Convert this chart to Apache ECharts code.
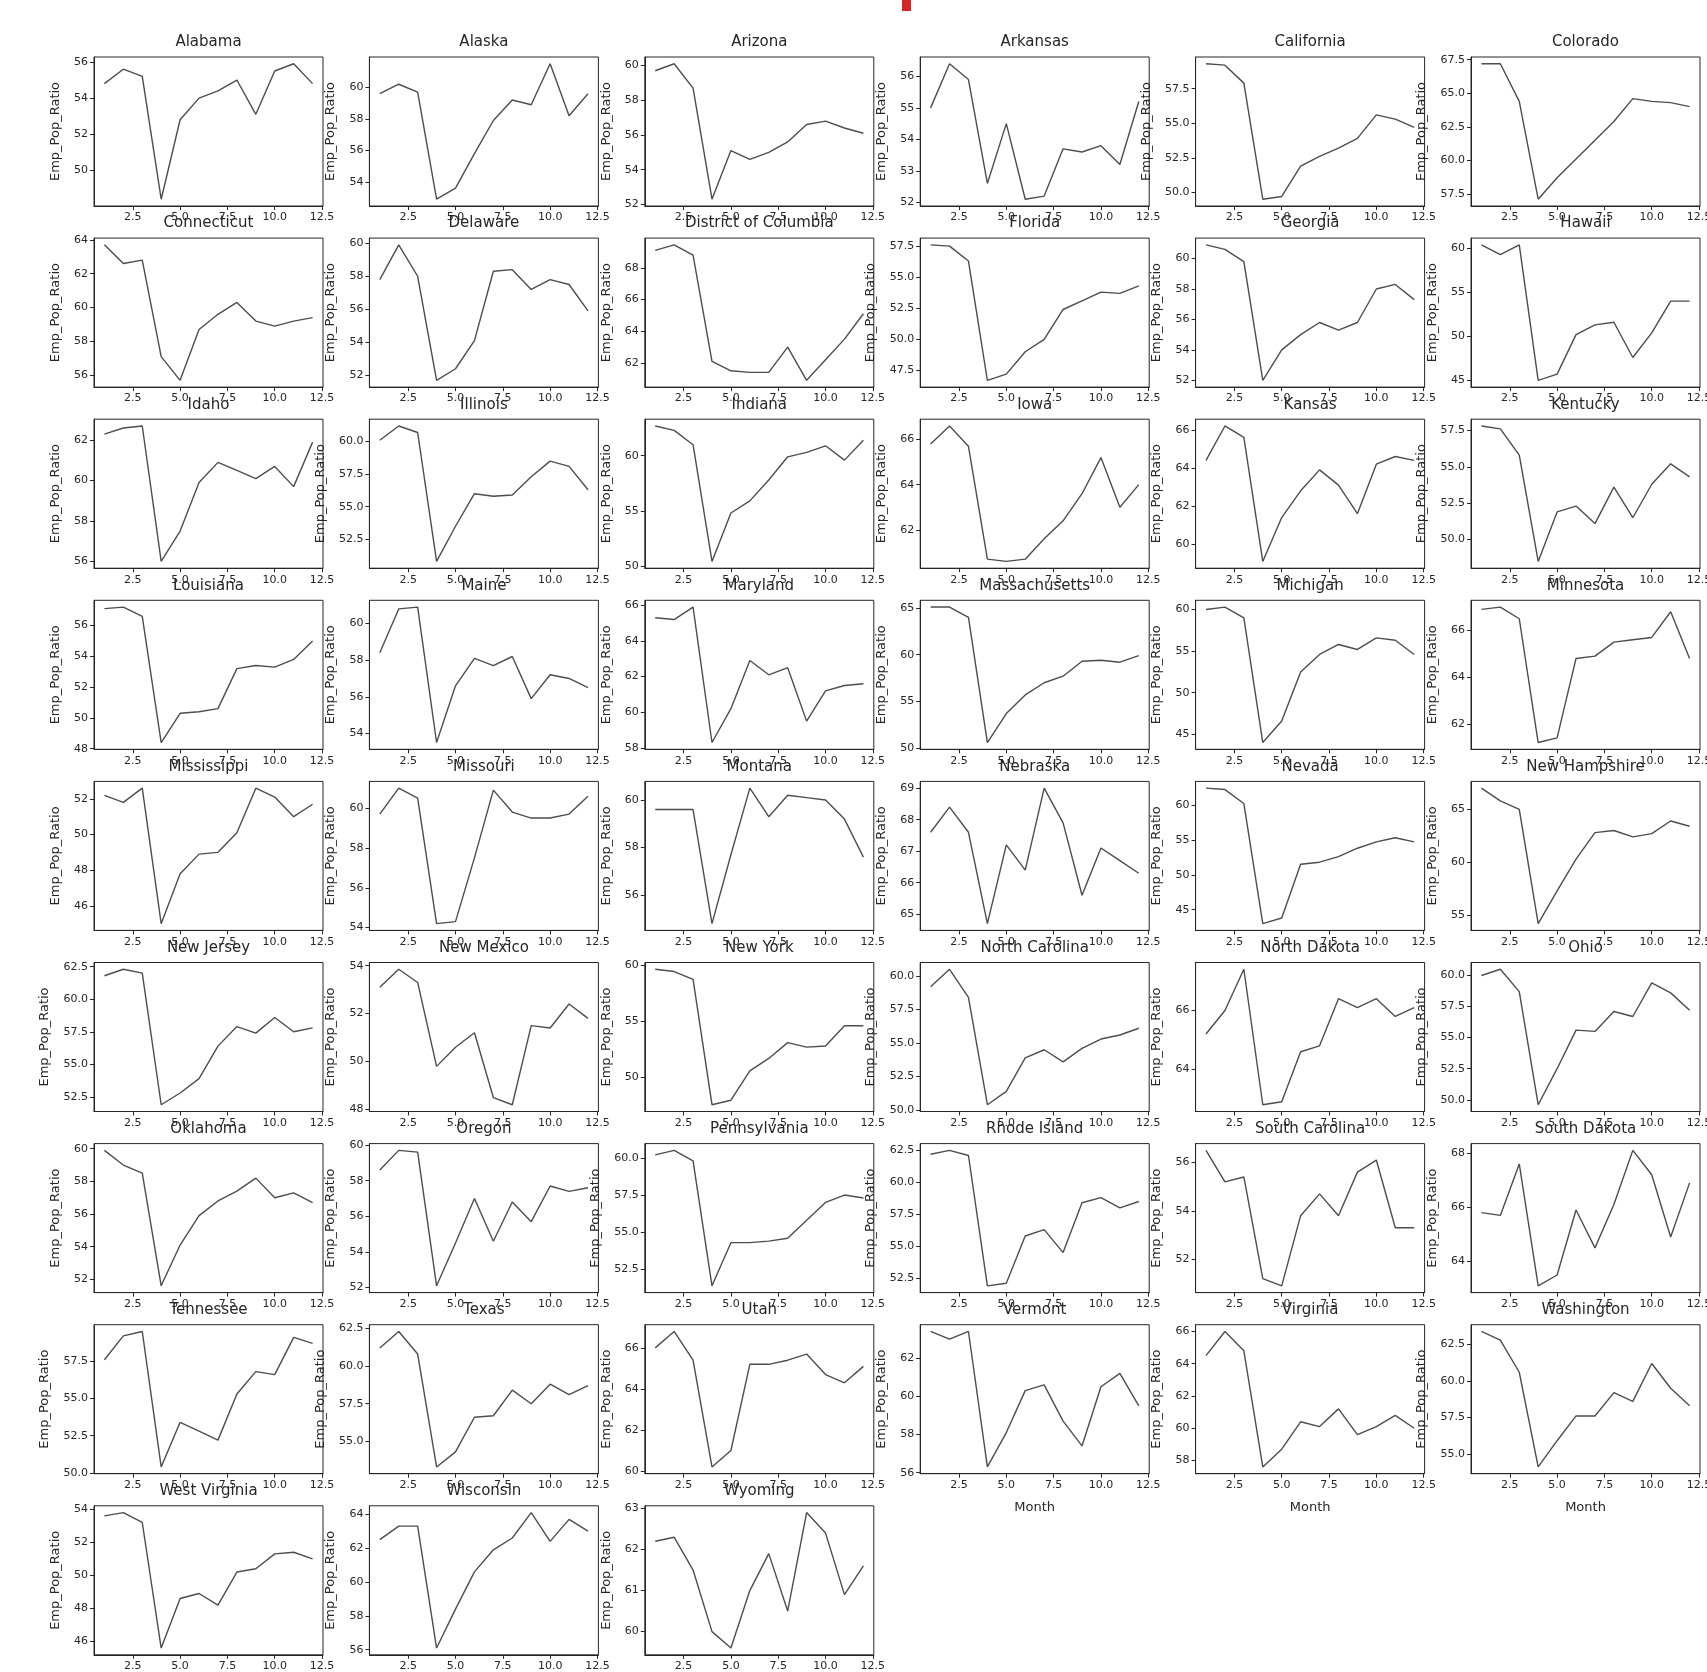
<!DOCTYPE html>
<html><head><meta charset="utf-8">
<script src="https://cdn.jsdelivr.net/npm/echarts@6/dist/echarts.min.js"></script>
<style>html,body{margin:0;padding:0;background:#fff}#c{width:1707px;height:1672px}</style>
</head><body><div id="c"></div>
<script>
const months = [1,2,3,4,5,6,7,8,9,10,11,12];
const states = ["Alabama","Alaska","Arizona","Arkansas","California","Colorado","Connecticut","Delaware","District of Columbia","Florida","Georgia","Hawaii","Idaho","Illinois","Indiana","Iowa","Kansas","Kentucky","Louisiana","Maine","Maryland","Massachusetts","Michigan","Minnesota","Mississippi","Missouri","Montana","Nebraska","Nevada","New Hampshire","New Jersey","New Mexico","New York","North Carolina","North Dakota","Ohio","Oklahoma","Oregon","Pennsylvania","Rhode Island","South Carolina","South Dakota","Tennessee","Texas","Utah","Vermont","Virginia","Washington","West Virginia","Wisconsin","Wyoming"];

const alabama = [54.8,55.6,55.2,48.4,52.8,54.0,54.4,55.0,53.1,55.5,55.9,54.8];
const alaska = [59.6,60.2,59.7,52.9,53.6,55.8,57.9,59.2,58.9,61.5,58.2,59.6];
const arizona = [59.7,60.1,58.7,52.3,55.1,54.6,55.0,55.6,56.6,56.8,56.4,56.1];
const arkansas = [55.0,56.4,55.9,52.6,54.5,52.1,52.2,53.7,53.6,53.8,53.2,55.2];
const california = [59.3,59.2,57.9,49.5,49.7,51.9,52.6,53.2,53.9,55.6,55.3,54.7];
const colorado = [67.2,67.2,64.4,57.1,58.7,60.1,61.5,62.9,64.6,64.4,64.3,64.0];
const connecticut = [63.7,62.6,62.8,57.1,55.7,58.7,59.6,60.3,59.2,58.9,59.2,59.4];
const delaware = [57.8,59.9,58.0,51.7,52.4,54.1,58.3,58.4,57.2,57.8,57.5,55.9];
const districtOfColumbia = [69.1,69.45,68.8,62.1,61.5,61.4,61.4,63.0,60.9,62.2,63.5,65.1];
const florida = [57.6,57.5,56.3,46.7,47.2,49.0,50.0,52.4,53.1,53.8,53.7,54.3];
const georgia = [60.9,60.6,59.8,52.0,54.0,55.0,55.8,55.3,55.8,58.0,58.3,57.3];
const hawaii = [60.4,59.3,60.4,45.0,45.7,50.2,51.3,51.6,47.6,50.4,54.0,54.0];
const idaho = [62.3,62.6,62.7,56.0,57.5,59.9,60.9,60.5,60.1,60.7,59.7,61.9];
const illinois = [60.1,61.2,60.7,50.8,53.5,56.0,55.8,55.9,57.3,58.5,58.1,56.3];
const indiana = [62.7,62.3,61.0,50.4,54.8,55.9,57.8,59.9,60.3,60.9,59.6,61.4];
const iowa = [65.8,66.6,65.7,60.7,60.6,60.7,61.6,62.4,63.6,65.2,63.0,64.0];
const kansas = [64.4,66.2,65.6,59.1,61.4,62.8,63.9,63.1,61.6,64.2,64.6,64.4];
const kentucky = [57.8,57.6,55.8,48.5,51.9,52.3,51.1,53.6,51.5,53.8,55.2,54.3];
const louisiana = [57.1,57.2,56.6,48.4,50.3,50.4,50.6,53.2,53.4,53.3,53.8,55.0];
const maine = [58.4,60.8,60.9,53.5,56.6,58.1,57.7,58.2,55.9,57.2,57.0,56.5];
const maryland = [65.3,65.2,65.9,58.3,60.2,62.9,62.1,62.5,59.5,61.2,61.5,61.6];
const massachusetts = [65.1,65.1,64.0,50.6,53.7,55.7,57.0,57.7,59.3,59.4,59.2,59.9];
const michigan = [60.0,60.3,59.0,44.0,46.6,52.5,54.6,55.8,55.2,56.6,56.3,54.6];
const minnesota = [66.9,67.0,66.5,61.2,61.4,64.8,64.9,65.5,65.6,65.7,66.8,64.8];
const mississippi = [52.2,51.8,52.6,45.0,47.8,48.9,49.0,50.1,52.6,52.1,51.0,51.7];
const missouri = [59.7,61.0,60.5,54.2,54.3,57.5,60.9,59.8,59.5,59.5,59.7,60.6];
const montana = [59.6,59.6,59.6,54.8,57.7,60.5,59.3,60.2,60.1,60.0,59.2,57.6];
const nebraska = [67.6,68.4,67.6,64.7,67.2,66.4,69.0,67.9,65.6,67.1,66.7,66.3];
const nevada = [62.4,62.2,60.2,43.0,43.8,51.5,51.8,52.6,53.8,54.7,55.3,54.7];
const newHampshire = [67.0,65.8,65.0,54.2,57.3,60.3,62.8,63.0,62.4,62.7,63.9,63.4];
const newJersey = [61.8,62.3,62.0,51.9,52.8,53.9,56.4,57.9,57.4,58.6,57.5,57.8];
const newMexico = [53.1,53.85,53.3,49.8,50.6,51.2,48.5,48.2,51.5,51.4,52.4,51.8];
const newYork = [59.6,59.4,58.7,47.6,48.0,50.6,51.7,53.1,52.7,52.8,54.6,54.6];
const northCarolina = [59.2,60.5,58.4,50.4,51.4,53.9,54.5,53.6,54.6,55.3,55.6,56.1];
const northDakota = [65.2,66.0,67.4,62.8,62.9,64.6,64.8,66.4,66.1,66.4,65.8,66.1];
const ohio = [60.0,60.5,58.7,49.6,52.5,55.6,55.5,57.1,56.7,59.4,58.6,57.2];
const oklahoma = [59.9,59.0,58.5,51.6,54.1,55.9,56.8,57.4,58.2,57.0,57.3,56.7];
const oregon = [58.6,59.7,59.6,52.1,54.5,57.0,54.6,56.8,55.7,57.7,57.4,57.6];
const pennsylvania = [60.2,60.5,59.8,51.4,54.3,54.3,54.4,54.6,55.8,57.0,57.5,57.3];
const rhodeIsland = [62.2,62.5,62.1,51.9,52.1,55.8,56.3,54.5,58.4,58.8,58.0,58.5];
const southCarolina = [56.5,55.2,55.4,51.2,50.9,53.8,54.7,53.8,55.6,56.1,53.3,53.3];
const southDakota = [65.8,65.7,67.6,63.1,63.5,65.9,64.5,66.1,68.1,67.2,64.9,66.9];
const tennessee = [57.6,59.2,59.5,50.4,53.4,52.8,52.2,55.3,56.8,56.6,59.1,58.7];
const texas = [61.2,62.3,60.8,53.3,54.3,56.6,56.7,58.4,57.5,58.8,58.1,58.7];
const utah = [66.0,66.8,65.4,60.2,61.0,65.2,65.2,65.4,65.7,64.7,64.3,65.1];
const vermont = [63.4,63.0,63.4,56.3,58.1,60.3,60.6,58.7,57.4,60.5,61.2,59.5];
const virginia = [64.5,66.0,64.8,57.6,58.7,60.4,60.1,61.2,59.6,60.1,60.8,60.0];
const washington = [63.4,62.8,60.6,54.1,55.9,57.6,57.6,59.2,58.6,61.2,59.5,58.3];
const westVirginia = [53.6,53.8,53.2,45.6,48.6,48.9,48.2,50.2,50.4,51.3,51.4,51.0];
const wisconsin = [62.5,63.3,63.3,56.1,58.4,60.6,61.9,62.6,64.1,62.4,63.7,63.0];
const wyoming = [62.2,62.3,61.5,60.0,59.6,61.0,61.9,60.5,62.9,62.4,60.9,61.6];

const seriesValues = [alabama,alaska,arizona,arkansas,california,colorado,connecticut,delaware,districtOfColumbia,florida,georgia,hawaii,idaho,illinois,indiana,iowa,kansas,kentucky,louisiana,maine,maryland,massachusetts,michigan,minnesota,mississippi,missouri,montana,nebraska,nevada,newHampshire,newJersey,newMexico,newYork,northCarolina,northDakota,ohio,oklahoma,oregon,pennsylvania,rhodeIsland,southCarolina,southDakota,tennessee,texas,utah,vermont,virginia,washington,westVirginia,wisconsin,wyoming];

const yTickLabels = [
 [50,52,54,56],[54,56,58,60],[52,54,56,58,60],[52,53,54,55,56],[50,52.5,55,57.5],[57.5,60,62.5,65,67.5],
 [56,58,60,62,64],[52,54,56,58,60],[62,64,66,68],[47.5,50,52.5,55,57.5],[52,54,56,58,60],[45,50,55,60],
 [56,58,60,62],[52.5,55,57.5,60],[50,55,60],[62,64,66],[60,62,64,66],[50,52.5,55,57.5],
 [48,50,52,54,56],[54,56,58,60],[58,60,62,64,66],[50,55,60,65],[45,50,55,60],[62,64,66],
 [46,48,50,52],[54,56,58,60],[56,58,60],[65,66,67,68,69],[45,50,55,60],[55,60,65],
 [52.5,55,57.5,60,62.5],[48,50,52,54],[50,55,60],[50,52.5,55,57.5,60],[64,66],[50,52.5,55,57.5,60],
 [52,54,56,58,60],[52,54,56,58,60],[52.5,55,57.5,60],[52.5,55,57.5,60,62.5],[52,54,56],[64,66,68],
 [50,52.5,55,57.5],[55,57.5,60,62.5],[60,62,64,66],[56,58,60,62],[58,60,62,64,66],[55,57.5,60,62.5],
 [46,48,50,52,54],[56,58,60,62,64],[60,61,62,63]
];
const xTickLabels = [2.5,5,7.5,10,12.5];
const yName = 'Emp_Pop_Ratio';
const xName = 'Month';

const FONT = 'DejaVu Sans';
const COLS = 6;
const X0 = 94, DX = 275.4, Y0 = 57, DY = 181.1, W = 229, H = 149;
const ink = '#262626';

const grids = [], xAxes = [], yAxes = [], series = [], titles = [];
function labelWidth(s){ let w=0; for(const ch of s){ w += (ch==='.') ? 3.6 : 7.0; } return w; }

states.forEach((name, i) => {
  const r = Math.floor(i / COLS), c = i % COLS;
  const left = X0 + c * DX, top = Y0 + r * DY;
  const vals = seriesValues[i];
  const dmin = Math.min(...vals), dmax = Math.max(...vals);
  const pad = (dmax - dmin) * 0.05;
  const ticks = yTickLabels[i];
  const dec = ticks.some(t => Math.abs(t - Math.round(t)) > 1e-9) ? 1 : 0;
  const maxW = Math.max(...ticks.map(t => labelWidth(t.toFixed(dec))));
  const isBottom = i + COLS >= states.length;

  grids.push({ left: left, top: top, width: W, height: H, show: true,
    borderColor: ink, borderWidth: 1, backgroundColor: 'transparent',
    containLabel: false, outerBoundsMode: 'none' });
  xAxes.push({ type: 'value', gridIndex: i, min: 0.45, max: 12.55,
    name: isBottom ? xName : '', nameLocation: 'middle', nameGap: 27,
    nameTextStyle: { fontFamily: FONT, fontSize: 13, color: ink },
    axisLine: { show: true, onZero: false, lineStyle: { color: ink, width: 1 } },
    axisTick: { show: true, inside: false, length: 4, customValues: xTickLabels, lineStyle: { color: ink } },
    axisLabel: { show: true, customValues: xTickLabels, margin: 6, fontFamily: FONT, fontSize: 11, color: ink,
      formatter: v => Number(v).toFixed(1) },
    splitLine: { show: false } });
  yAxes.push({ type: 'value', gridIndex: i, min: dmin - pad, max: dmax + pad,
    name: yName, nameLocation: 'middle', nameRotate: 90, nameGap: maxW + 18,
    nameTextStyle: { fontFamily: FONT, fontSize: 13, color: ink },
    axisLine: { show: true, onZero: false, lineStyle: { color: ink, width: 1 } },
    axisTick: { show: true, inside: false, length: 4, customValues: ticks, lineStyle: { color: ink } },
    axisLabel: { show: true, customValues: ticks, margin: 6, fontFamily: FONT, fontSize: 11, color: ink,
      formatter: v => Number(v).toFixed(dec) },
    splitLine: { show: false } });
  series.push({ type: 'line', xAxisIndex: i, yAxisIndex: i, showSymbol: false, symbol: 'none',
    data: months.map((m, k) => [m, vals[k]]),
    lineStyle: { color: '#4d4d4d', width: 1.4 }, silent: true, animation: false });
  titles.push({ text: name, left: left + W / 2, top: top - 22, textAlign: 'center', padding: 0,
    textStyle: { fontFamily: FONT, fontSize: 15, fontWeight: 'normal', color: ink } });
});

const chart = echarts.init(document.getElementById('c'), null, { renderer: 'canvas' });
chart.setOption({
  animation: false,
  backgroundColor: '#ffffff',
  title: titles,
  grid: grids, xAxis: xAxes, yAxis: yAxes, series: series,
  graphic: [{ type: 'rect', left: 902, top: 0, shape: { width: 9, height: 11 }, style: { fill: '#d62728' } }]
});
</script>
</body></html>
